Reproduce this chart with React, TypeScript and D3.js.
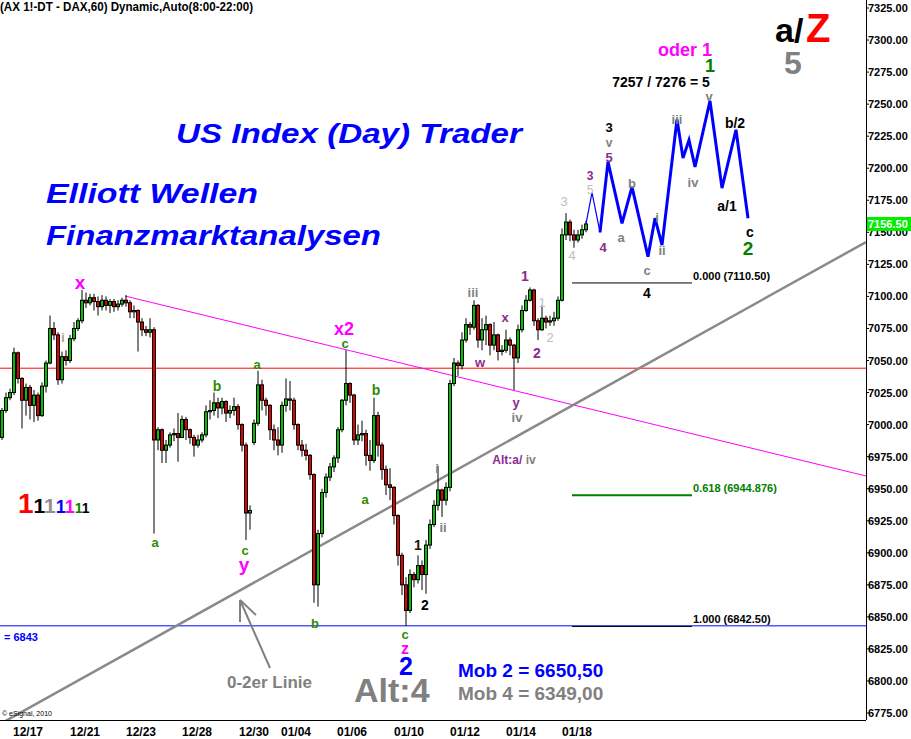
import React from 'react';
import * as d3 from 'd3';

// ---- data ----
// hourly-ish bars: [open, high, low, close]
const ohlcBars: [number, number, number, number][] = [
  [6990, 7013, 6988, 7011], [7011, 7025, 7009, 7021], [7021, 7028, 7019, 7025], [7025, 7060, 7023, 7056],
  [7056, 7057, 7032, 7036], [7036, 7037, 6997, 7019], [7019, 7032, 7007, 7029], [7029, 7031, 7004, 7015],
  [7015, 7027, 7002, 7023], [7023, 7025, 7003, 7007], [7007, 7033, 7006, 7030], [7030, 7050, 7025, 7048],
  [7048, 7085, 7047, 7075], [7075, 7080, 7066, 7070], [7070, 7072, 7031, 7035], [7035, 7057, 7032, 7053],
  [7053, 7058, 7046, 7050], [7050, 7070, 7048, 7067], [7067, 7080, 7065, 7075], [7075, 7083, 7073, 7081],
  [7081, 7105, 7079, 7097], [7097, 7103, 7091, 7095], [7095, 7102, 7093, 7099], [7099, 7102, 7089, 7096],
  [7096, 7100, 7085, 7092], [7092, 7101, 7089, 7097], [7097, 7100, 7089, 7093], [7093, 7098, 7087, 7096],
  [7096, 7098, 7088, 7092], [7092, 7097, 7089, 7094], [7094, 7099, 7092, 7097], [7097, 7101, 7092, 7095],
  [7095, 7097, 7083, 7088], [7088, 7093, 7083, 7089], [7089, 7090, 7057, 7080], [7080, 7083, 7069, 7074],
  [7074, 7077, 7069, 7072], [7072, 7083, 7068, 7074], [7074, 7076, 6915, 6988], [6988, 6998, 6980, 6996],
  [6996, 6997, 6970, 6980], [6980, 6988, 6970, 6984], [6984, 6994, 6982, 6992], [6992, 6997, 6987, 6993],
  [6993, 7009, 6971, 6990], [6990, 7007, 6990, 7004], [7004, 7006, 6988, 6996], [6996, 6997, 6985, 6990],
  [6990, 6992, 6975, 6984], [6984, 6992, 6982, 6988], [6988, 6994, 6986, 6992], [6992, 7015, 6990, 7010],
  [7010, 7019, 7004, 7011], [7011, 7025, 7007, 7017], [7017, 7021, 7005, 7013], [7013, 7021, 7008, 7018],
  [7018, 7019, 7002, 7009], [7009, 7015, 7005, 7011], [7011, 7021, 7007, 7014], [7014, 7016, 6996, 7000],
  [7000, 7001, 6979, 6984], [6984, 6986, 6910, 6931], [6931, 6937, 6918, 6933], [6986, 7004, 6984, 7001],
  [7001, 7042, 6999, 7031], [7031, 7035, 7011, 7019], [7019, 7021, 7007, 7015], [7015, 7016, 6988, 6996],
  [6996, 7000, 6980, 6988], [6988, 6998, 6976, 6984], [6984, 7018, 6978, 7015], [7015, 7036, 7010, 7020],
  [7020, 7034, 7011, 7019], [7019, 7021, 6996, 7000], [7000, 7001, 6980, 6984], [6984, 6988, 6975, 6980],
  [6980, 6985, 6972, 6976], [6976, 6977, 6957, 6961], [6961, 6962, 6861, 6875], [6875, 6918, 6858, 6915],
  [6915, 6950, 6912, 6947], [6947, 6962, 6943, 6959], [6959, 6970, 6956, 6967], [6967, 6976, 6963, 6974],
  [6974, 6998, 6970, 6996], [6996, 7020, 6994, 7019], [7019, 7058, 7015, 7032], [7032, 7033, 7017, 7023],
  [7023, 7024, 6984, 6988], [6988, 7000, 6984, 6992], [6992, 7003, 6987, 6993], [6993, 6996, 6968, 6976],
  [6976, 6988, 6964, 6972], [6972, 7021, 6970, 7007], [7007, 7010, 6975, 6984], [6984, 6986, 6957, 6965],
  [6965, 6968, 6945, 6953], [6953, 6966, 6941, 6951], [6951, 6952, 6922, 6929], [6929, 6930, 6890, 6898],
  [6898, 6900, 6867, 6875], [6875, 6881, 6843, 6855], [6855, 6887, 6853, 6883], [6883, 6885, 6873, 6879],
  [6879, 6898, 6876, 6890], [6890, 6894, 6871, 6883], [6883, 6910, 6868, 6906], [6906, 6926, 6903, 6922],
  [6922, 6941, 6920, 6937], [6937, 6968, 6933, 6949], [6949, 6950, 6928, 6941], [6941, 6955, 6937, 6951],
  [6951, 7035, 6948, 7032], [7032, 7052, 7030, 7048], [7048, 7050, 7038, 7046], [7046, 7072, 7043, 7066],
  [7066, 7083, 7064, 7078], [7078, 7080, 7070, 7076], [7076, 7097, 7074, 7093], [7093, 7094, 7060, 7066],
  [7066, 7083, 7058, 7074], [7074, 7085, 7062, 7078], [7078, 7079, 7054, 7062], [7062, 7080, 7058, 7070],
  [7070, 7071, 7050, 7057], [7057, 7062, 7054, 7058], [7058, 7074, 7056, 7066], [7066, 7068, 7054, 7062],
  [7062, 7063, 7027, 7052], [7052, 7078, 7048, 7074], [7074, 7093, 7072, 7089], [7089, 7101, 7088, 7097],
  [7097, 7107, 7096, 7105], [7105, 7106, 7077, 7081], [7081, 7083, 7066, 7074], [7074, 7093, 7073, 7083],
  [7083, 7085, 7075, 7080], [7080, 7085, 7077, 7081], [7081, 7088, 7077, 7083], [7083, 7100, 7081, 7097],
  [7097, 7153, 7096, 7148], [7148, 7165, 7144, 7158], [7158, 7160, 7143, 7148], [7148, 7152, 7138, 7144],
  [7144, 7152, 7142, 7148], [7148, 7156, 7145, 7152], [7152, 7159, 7150, 7156.5],
];

// projected wave count (bar index, price)
const projThin: [number, number][] = [[146, 7156.5], [147.5, 7181], [149.5, 7150]];
const projThick: [number, number][] = [
  [149.5, 7150], [151.5, 7205], [155, 7157], [157.5, 7185.5], [161.5, 7131], [163.25, 7161],
  [165, 7140], [168.75, 7238], [170.25, 7208], [171.75, 7222], [173.25, 7201], [177, 7252.5],
  [180, 7184.5], [183.5, 7230], [186.5, 7161],
];

const dateLabels = ['12/17', '12/21', '12/23', '12/28', '12/30', '01/04', '01/06', '01/10', '01/12', '01/14', '01/18'];
const dateTickIdx = [6.5, 20.75, 34.75, 48.75, 63, 73.5, 87.5, 101.75, 115.75, 129.75, 143.75];
const priceTicks = [7325, 7300, 7275, 7250, 7225, 7200, 7175, 7150, 7125, 7100, 7075, 7050, 7025, 7000,
  6975, 6950, 6925, 6900, 6875, 6850, 6825, 6800, 6775];

const redLevel = 7044;
const blueLevel = 6843;
const lastPrice = 7156.5;
const magentaLine: [number, number][] = [[30.75, 7100.3], [216, 6959.9]];
const grayLine: [number, number][] = [[-0.5, 6766.4], [216, 7142.4]];
const fibLevels = [
  { ratio: '0.000', value: 7110.5, label: '0.000 (7110.50)' },
  { ratio: '0.618', value: 6944.876, label: '0.618 (6944.876)' },
  { ratio: '1.000', value: 6842.5, label: '1.000 (6842.50)' },
];
const fibSpan = [142.5, 172.5];

const GREEN = '#2f8a00';
const MAG = '#ff00ff';
const PUR = '#8e2a8e';
const GRAY = '#808080';
const LGRAY = '#bdbdbd';
const BLK = '#000000';

// wave labels: bar index, price, text, color, size, bold
const waveLabels: [number, number, string, string, number, boolean][] = [
  [19.5, 7110.5, 'x', MAG, 19, true],
  [15.25, 7067.6, 'i', '#a89a80', 12, true],
  [38.25, 6908.4, 'a', GREEN, 13, true],
  [53.75, 7030.1, 'b', GREEN, 14, true],
  [63.75, 7046.5, 'a', GREEN, 13, true],
  [60.75, 6901.4, 'c', GREEN, 13, true],
  [60.5, 6890.6, 'y', MAG, 19, true],
  [85.5, 7074.4, 'x2', MAG, 18, true],
  [85.75, 7063.2, 'c', GREEN, 13, true],
  [93.5, 7027, 'b', GREEN, 14, true],
  [90.75, 6941.2, 'a', GREEN, 13, true],
  [78.25, 6845.2, 'b', GREEN, 13, true],
  [100.75, 6836.4, 'c', GREEN, 13, true],
  [100.75, 6825.0, 'z', MAG, 16, true],
  [101, 6811.6, '2', '#0000ff', 25, true],
  [104, 6906.1, '1', '#2a1400', 14, true],
  [105.75, 6859.2, '2', BLK, 14, true],
  [108.75, 6966.1, 'i', GRAY, 13, true],
  [110.25, 6920.1, 'ii', GRAY, 13, true],
  [117.75, 7103.4, 'iii', GRAY, 13, true],
  [119.5, 7048.8, 'w', PUR, 13, true],
  [125.75, 7083.2, 'x', PUR, 13, true],
  [128.5, 7017.4, 'y', PUR, 13, true],
  [128.75, 7005.4, 'iv', GRAY, 13, true],
  [130.75, 7115.9, '1', PUR, 14, true],
  [133.75, 7055.8, '2', PUR, 14, true],
  [135, 7095.6, '1', LGRAY, 13, false],
  [137, 7068.3, '2', LGRAY, 13, false],
  [140.5, 7173.7, '3', LGRAY, 13, false],
  [142.5, 7132.3, '4', LGRAY, 13, false],
  [147, 7193.6, '3', PUR, 12, true],
  [147, 7183.4, '5', LGRAY, 12, false],
  [150.25, 7137.8, '4', PUR, 13, true],
  [151.75, 7231.8, '3', BLK, 13, true],
  [151.75, 7220.0, 'v', GRAY, 12, true],
  [151.75, 7208.4, '5', PUR, 13, true],
  [154.75, 7146.3, 'a', GRAY, 13, true],
  [157.5, 7187.7, 'b', GRAY, 13, true],
  [161.25, 7120.4, 'c', GRAY, 13, true],
  [161.25, 7103.0, '4', BLK, 14, true],
  [163.75, 7161.9, 'i', GRAY, 13, true],
  [165, 7136.2, 'ii', GRAY, 13, true],
  [168.75, 7238.4, 'iii', GRAY, 13, true],
  [172.75, 7188.5, 'iv', GRAY, 13, true],
  [176.75, 7255.6, 'v', GRAY, 13, true],
  [183.25, 7235.3, 'b/2', BLK, 14, true],
  [181.25, 7170.5, 'a/1', BLK, 14, true],
  [187, 7150.6, 'c', BLK, 14, true],
  [186.5, 7137.2, '2', '#008000', 19, true],
  [177, 7279.8, '1', '#008000', 18, true],
  [170.75, 7292.2, 'oder 1', MAG, 18, true],
  [164.75, 7267.3, '7257 / 7276 = 5', BLK, 14, true],
];

const ones: [string, string, number][] = [
  ['1', '#ff0000', 28], ['1', '#000000', 21], ['1', '#909090', 21], ['1', '#0000ff', 18],
  ['1', '#ff00ff', 18], ['1', '#008000', 14], ['1', '#000000', 14],
];

const FONT = '"Liberation Sans", Arial, Helvetica, sans-serif';

export default function App() {
  const W = 911, H = 739;
  const plotR = 866, plotB = 720;
  const xs = d3.scaleLinear().domain([0, 216]).range([2, 866]);
  const ys = d3.scaleLinear().domain([6775, 7325]).range([713, 8]);
  const line = d3.line<[number, number]>().x(d => xs(d[0])).y(d => ys(d[1]));

  return (
    <svg width={W} height={H} style={{ position: 'absolute', left: 0, top: 0, background: '#fff' }}
      fontFamily={FONT}>
      <defs>
        <clipPath id="plot"><rect x={0} y={0} width={plotR} height={plotB} /></clipPath>
      </defs>
      <rect x={0} y={0} width={W} height={H} fill="#fff" />

      {/* header texts */}
      <text x={0} y={11} fontSize={12} fontWeight="bold" textLength={253} lengthAdjust="spacingAndGlyphs">
        (AX 1!-DT - DAX,60) Dynamic,Auto(8:00-22:00)
      </text>
      <text x={176} y={143} fontSize={28} fontWeight="bold" fontStyle="italic" fill="#0000ff"
        textLength={346} lengthAdjust="spacingAndGlyphs">US Index (Day) Trader</text>
      <text x={46} y={203} fontSize={28} fontWeight="bold" fontStyle="italic" fill="#0000ff"
        textLength={212} lengthAdjust="spacingAndGlyphs">Elliott Wellen</text>
      <text x={46} y={245} fontSize={28} fontWeight="bold" fontStyle="italic" fill="#0000ff"
        textLength={335} lengthAdjust="spacingAndGlyphs">Finanzmarktanalysen</text>

      <g clipPath="url(#plot)">
        {/* horizontal levels */}
        <line x1={0} x2={plotR} y1={ys(redLevel)} y2={ys(redLevel)} stroke="#ff0000" strokeWidth={1} />
        <line x1={0} x2={plotR} y1={ys(blueLevel)} y2={ys(blueLevel)} stroke="#0000ff" strokeWidth={1} />
        {/* trend lines */}
        <path d={line(magentaLine) || ''} stroke="#ff00ff" strokeWidth={1} fill="none" />
        <path d={line(grayLine) || ''} stroke="#8a8a8a" strokeWidth={2.5} fill="none" />
        {/* fib */}
        {fibLevels.map((f, k) => (
          <line key={k} x1={xs(fibSpan[0])} x2={xs(fibSpan[1])} y1={ys(f.value)} y2={ys(f.value)}
            stroke={f.ratio === '0.618' ? '#008000' : '#000'} strokeWidth={f.ratio === '0.618' ? 2 : 1} />
        ))}
        {/* candles */}
        {ohlcBars.map((b, i) => {
          const [o, h, l, c] = b;
          const x = xs(i);
          const y1 = ys(Math.max(o, c));
          const y2 = ys(Math.min(o, c));
          return (
            <g key={i}>
              <line x1={x} x2={x} y1={ys(h)} y2={ys(l)} stroke="#000" strokeWidth={1} />
              <rect x={x - 1.5} y={y1} width={3} height={Math.max(1, y2 - y1)}
                fill={c >= o ? '#00c000' : '#e00000'} stroke="#000" strokeWidth={1} />
            </g>
          );
        })}
        {/* projection */}
        <path d={line(projThin) || ''} stroke="#0000ff" strokeWidth={1.2} fill="none" />
        <path d={line(projThick) || ''} stroke="#0000ff" strokeWidth={3} fill="none" strokeLinejoin="miter" />
      </g>

      {/* fib labels */}
      {fibLevels.map((f, k) => (
        <text key={k} x={xs(fibSpan[1]) + 1} y={ys(f.value) - 7} fontSize={11} fontWeight="bold"
          fill={f.ratio === '0.618' ? '#008000' : '#000'} dominantBaseline="central">{f.label}</text>
      ))}

      {/* wave labels */}
      {waveLabels.map((w, k) => (
        <text key={k} x={xs(w[0])} y={ys(w[1])} fontSize={w[4]} fontWeight={w[5] ? 'bold' : 'normal'}
          fill={w[3]} textAnchor="middle" dominantBaseline="central">{w[2]}</text>
      ))}
      <text x={xs(128)} y={ys(6972.4)} fontSize={12} fontWeight="bold" textAnchor="middle" dominantBaseline="central">
        <tspan fill={PUR}>Alt:a/ </tspan><tspan fill={GRAY}>iv</tspan>
      </text>

      {/* left annotations */}
      <text x={18} y={513} fontWeight="bold">
        {ones.map((o, k) => (
          <tspan key={k} fill={o[1]} fontSize={o[2]}>{o[0]}</tspan>
        ))}
      </text>
      <text x={4} y={641} fontSize={11} fontWeight="bold" fill="#0000ff">= 6843</text>

      {/* arrow + 0-2er Linie */}
      <g stroke="#808080" strokeWidth={2} fill="none">
        <line x1={270} y1={668} x2={240} y2={600} />
        <line x1={240} y1={600} x2={240} y2={622} />
        <line x1={240} y1={600} x2={256} y2={615} />
      </g>
      <text x={227} y={688} fontSize={17} fontWeight="bold" fill="#808080">0-2er Linie</text>
      <text x={354} y={702} fontSize={34} fontWeight="bold" fill="#808080">Alt:4</text>
      <text x={458} y={677} fontSize={19} fontWeight="bold" fill="#0000ff">Mob 2 = 6650,50</text>
      <text x={458} y={700} fontSize={19} fontWeight="bold" fill="#808080">Mob 4 = 6349,00</text>

      {/* top right */}
      <text x={775} y={42} fontSize={34} fontWeight="bold" fill="#000">a/</text>
      <text x={806} y={42} fontSize={40} fontWeight="bold" fill="#ff0000">Z</text>
      <text x={784} y={74} fontSize={32} fontWeight="bold" fill="#808080">5</text>

      {/* axes */}
      <line x1={plotR + 0.5} x2={plotR + 0.5} y1={0} y2={plotB} stroke="#000" />
      <line x1={0} x2={plotR} y1={plotB + 0.5} y2={plotB + 0.5} stroke="#000" />
      {priceTicks.map(p => (
        <g key={p}>
          <line x1={plotR} x2={plotR + 3} y1={ys(p)} y2={ys(p)} stroke="#000" />
          <text x={plotR + 2} y={ys(p)} fontSize={11} fontWeight="bold" dominantBaseline="central">{p.toFixed(2)}</text>
        </g>
      ))}
      <rect x={plotR + 1} y={ys(lastPrice) - 7} width={W - plotR - 1} height={14} fill="#00ee00" />
      <text x={plotR + 2} y={ys(lastPrice)} fontSize={11} fontWeight="bold" fill="#fff" dominantBaseline="central">
        {lastPrice.toFixed(2)}
      </text>
      {dateLabels.map((d, k) => (
        <text key={d} x={xs(dateTickIdx[k])} y={732} fontSize={12} fontWeight="bold" textAnchor="middle"
          dominantBaseline="central">{d}</text>
      ))}
      <text x={2} y={716} fontSize={7} fill="#000">© eSignal, 2010</text>
    </svg>
  );
}
